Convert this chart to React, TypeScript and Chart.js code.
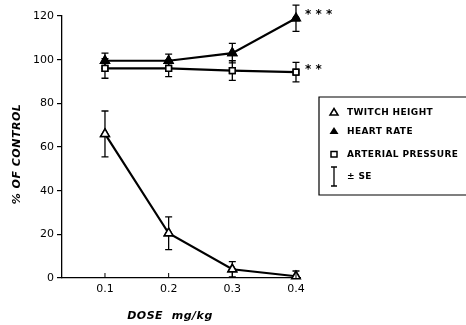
import React, { useEffect, useRef } from "react";
import { Chart, registerables } from "chart.js";

Chart.register(...registerables);

const doses = [0.1, 0.2, 0.3, 0.4];
const xTickLabels = ["0.1", "0.2", "0.3", "0.4"];
const yTicks = [0, 20, 40, 60, 80, 100, 120];

const twitchHeight = [66, 20.5, 4, 0.8];
const twitchSE = [10.5, 7.5, 3.5, 2.4];
const heartRate = [99.5, 99.5, 103, 119];
const heartRateSE = [3.5, 3, 4.5, 6];
const arterialPressure = [96, 96, 95, 94.3];
const arterialSE = [4.5, 3.8, 4.5, 4.5];

const seriesNames = ["TWITCH HEIGHT", "HEART RATE", "ARTERIAL PRESSURE"];
const seLabel = "± SE";
const significance = ["", "* * *", "* *"];
const xTitle = "DOSE  mg/kg";
const yTitle = "% OF CONTROL";

const FONT = "'DejaVu Sans', sans-serif";

export default function App() {
  const ref = useRef<HTMLCanvasElement>(null);

  useEffect(() => {
    const canvas = ref.current;
    if (!canvas) return;
    const errs = [twitchSE, heartRateSE, arterialSE];

    const extras = {
      id: "extras",
      afterDatasetsDraw(chart: any) {
        const ctx = chart.ctx;
        const xs = chart.scales.x;
        const ys = chart.scales.y;
        ctx.save();
        ctx.strokeStyle = "#000";
        ctx.lineWidth = 1.3;
        // error bars
        chart.data.datasets.forEach((ds: any, i: number) => {
          const se = errs[i];
          ds.data.forEach((p: any, j: number) => {
            const px = xs.getPixelForValue(p.x);
            const top = ys.getPixelForValue(Math.min(p.y + se[j], 130));
            const bot = ys.getPixelForValue(Math.max(p.y - se[j], 0));
            ctx.beginPath();
            ctx.moveTo(px, top);
            ctx.lineTo(px, bot);
            ctx.moveTo(px - 3.5, top);
            ctx.lineTo(px + 3.5, top);
            ctx.moveTo(px - 3.5, bot);
            ctx.lineTo(px + 3.5, bot);
            ctx.stroke();
          });
        });
        // redraw points over error bars
        chart.data.datasets.forEach((ds: any, i: number) => {
          const meta = chart.getDatasetMeta(i);
          meta.data.forEach((el: any) => el.draw(ctx, chart.chartArea));
        });
        ctx.restore();

        ctx.save();
        ctx.strokeStyle = "#000";
        ctx.fillStyle = "#000";
        // significance marks
        const last = doses.length - 1;
        const lx = xs.getPixelForValue(doses[last]) + 9;
        ctx.font = `bold 12px ${FONT}`;
        ctx.textAlign = "left";
        ctx.textBaseline = "alphabetic";
        if (significance[1]) {
          ctx.fillText(significance[1], lx, ys.getPixelForValue(heartRate[last]) - 7 + 7);
        }
        if (significance[2]) {
          ctx.fillText(significance[2], lx, ys.getPixelForValue(arterialPressure[last]) - 6 + 7);
        }
        // axis titles
        ctx.font = `italic bold 11px ${FONT}`;
        ctx.textBaseline = "middle";
        ctx.textAlign = "center";
        (ctx as any).letterSpacing = "0.5px";
        ctx.fillText(xTitle, 170, 316);
        ctx.save();
        ctx.translate(17, 154);
        ctx.rotate(-Math.PI / 2);
        ctx.fillText(yTitle, 0, 0);
        ctx.restore();
        // inward x ticks
        ctx.lineWidth = 1;
        doses.forEach((d) => {
          const px = xs.getPixelForValue(d);
          ctx.beginPath();
          ctx.moveTo(px, chart.chartArea.bottom);
          ctx.lineTo(px, chart.chartArea.bottom - 5);
          ctx.stroke();
        });
        // legend box
        ctx.lineWidth = 1.2;
        ctx.beginPath();
        ctx.moveTo(470, 97);
        ctx.lineTo(319, 97);
        ctx.lineTo(319, 195);
        ctx.lineTo(470, 195);
        ctx.stroke();
        const rows = [112, 131, 154];
        const sx = 334;
        ctx.font = `bold 9px ${FONT}`;
        (ctx as any).letterSpacing = "0.4px";
        ctx.textAlign = "left";
        ctx.lineWidth = 1.5;
        // open triangle
        ctx.beginPath();
        ctx.moveTo(sx, rows[0] - 3.5);
        ctx.lineTo(sx + 4, rows[0] + 3);
        ctx.lineTo(sx - 4, rows[0] + 3);
        ctx.closePath();
        ctx.stroke();
        // filled triangle
        ctx.beginPath();
        ctx.moveTo(sx, rows[1] - 4);
        ctx.lineTo(sx + 4.5, rows[1] + 3);
        ctx.lineTo(sx - 4.5, rows[1] + 3);
        ctx.closePath();
        ctx.fill();
        // open square
        ctx.strokeRect(sx - 3, rows[2] - 2.5, 6, 5.5);
        seriesNames.forEach((n, i) => {
          ctx.fillText(n, 347, rows[i] + 0.5);
        });
        // SE symbol
        ctx.lineWidth = 1.3;
        ctx.beginPath();
        ctx.moveTo(sx, 167);
        ctx.lineTo(sx, 186);
        ctx.moveTo(sx - 3, 167);
        ctx.lineTo(sx + 3, 167);
        ctx.moveTo(sx - 3, 186);
        ctx.lineTo(sx + 3, 186);
        ctx.stroke();
        ctx.fillText(seLabel, 347, 177);
        ctx.restore();
      },
    };

    const mk = (vals: number[]) => vals.map((v, i) => ({ x: doses[i], y: v }));

    const chart = new Chart(canvas, {
      type: "line",
      data: {
        datasets: [
          {
            label: seriesNames[0],
            data: mk(twitchHeight),
            borderColor: "#000",
            borderWidth: 2.2,
            pointStyle: "triangle",
            pointRadius: 5,
            pointBackgroundColor: "#fff",
            pointBorderColor: "#000",
            pointBorderWidth: 1.5,
            tension: 0,
          },
          {
            label: seriesNames[1],
            data: mk(heartRate),
            borderColor: "#000",
            borderWidth: 2.2,
            pointStyle: "triangle",
            pointRadius: 5,
            pointBackgroundColor: "#000",
            pointBorderColor: "#000",
            pointBorderWidth: 1.5,
            tension: 0,
          },
          {
            label: seriesNames[2],
            data: mk(arterialPressure),
            borderColor: "#000",
            borderWidth: 2.2,
            pointStyle: "rect",
            pointRadius: 4,
            pointBackgroundColor: "#fff",
            pointBorderColor: "#000",
            pointBorderWidth: 1.5,
            tension: 0,
          },
        ],
      },
      options: {
        animation: false,
        responsive: false,
        maintainAspectRatio: false,
        layout: { padding: { top: 16, right: 166, left: 0, bottom: 0 } },
        plugins: { legend: { display: false }, tooltip: { enabled: false } },
        scales: {
          x: {
            type: "linear",
            min: 0.0325,
            max: 0.4063,
            afterBuildTicks: (s: any) => {
              s.ticks = doses.map((v) => ({ value: v }));
            },
            afterFit: (s: any) => {
              s.height = 47;
            },
            ticks: {
              color: "#000",
              font: { family: FONT, size: 11 },
              padding: 5,
              callback: (v: any) => {
                const i = doses.findIndex((d) => Math.abs(d - Number(v)) < 1e-6);
                return i >= 0 ? xTickLabels[i] : "";
              },
            },
            grid: { display: false, drawTicks: false },
            border: { display: true, color: "#000", width: 1.3 },
          },
          y: {
            type: "linear",
            min: 0,
            max: 120,
            afterBuildTicks: (s: any) => {
              s.ticks = yTicks.map((v) => ({ value: v }));
            },
            afterFit: (s: any) => {
              s.width = 62;
            },
            ticks: {
              color: "#000",
              font: { family: FONT, size: 11 },
              padding: 3,
            },
            grid: {
              display: true,
              drawOnChartArea: false,
              drawTicks: true,
              tickLength: 5,
              color: "#000",
              lineWidth: 1.2,
            },
            border: { display: true, color: "#000", width: 1.3 },
          },
        },
      },
      plugins: [extras],
    } as any);

    return () => chart.destroy();
  }, []);

  return (
    <div style={{ position: "fixed", left: 0, top: 0, width: 466, height: 325, background: "#fff" }}>
      <canvas ref={ref} width={466} height={325} style={{ width: 466, height: 325 }} />
    </div>
  );
}
